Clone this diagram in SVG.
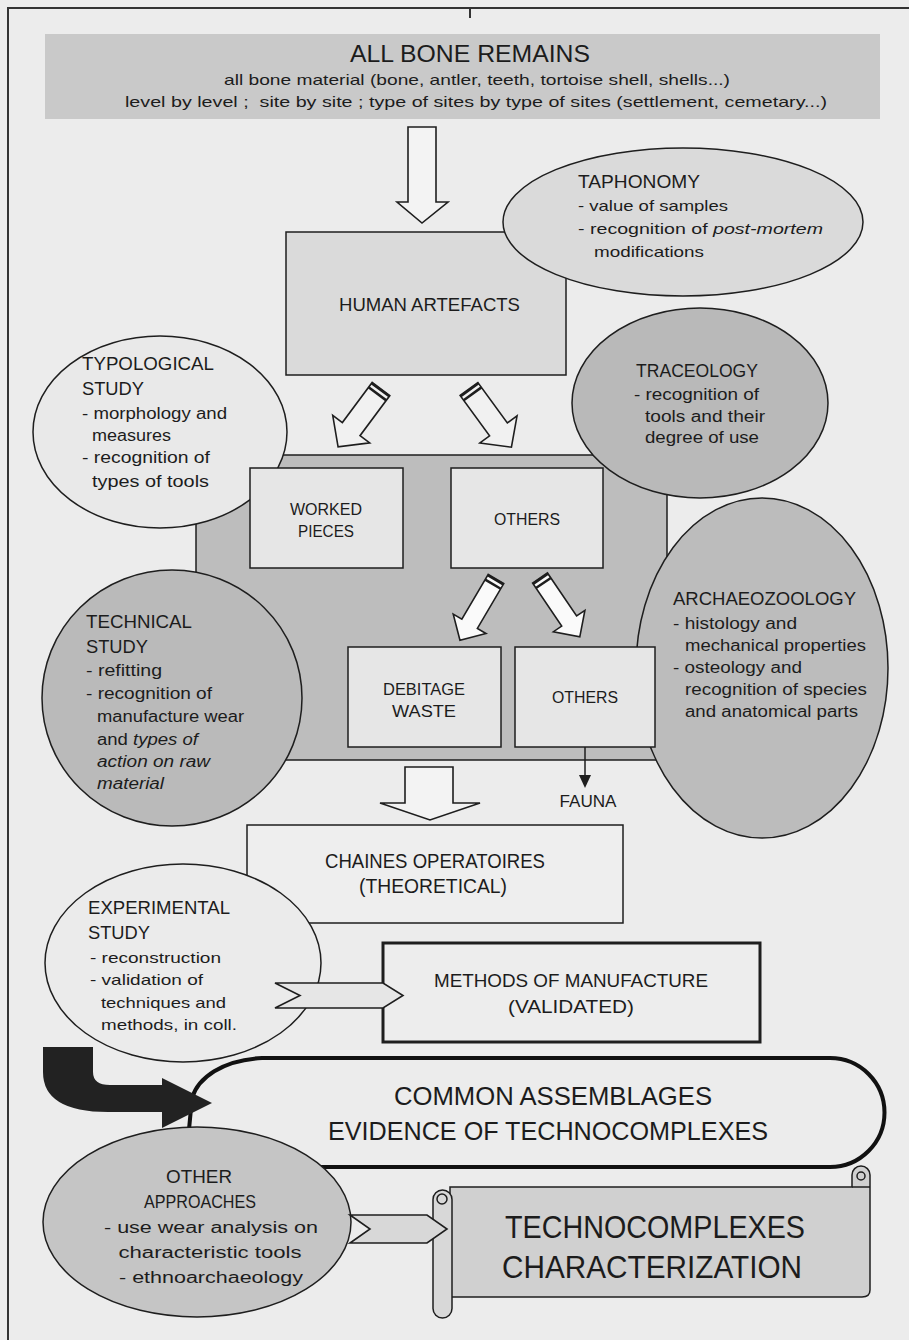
<svg xmlns="http://www.w3.org/2000/svg" xmlns:xlink="http://www.w3.org/1999/xlink" width="909" height="1340" viewBox="0 0 909 1340">
<style>
.t{font-family:"Liberation Sans",Arial,sans-serif;fill:#1c1c1c;}
.h{font-size:18px}
.b{font-size:16px}
.s{font-size:15px}
.c{text-anchor:middle}
.i{font-style:italic}
.ln{stroke:#1e1e1e;stroke-width:1.5}
.ar{stroke:#1e1e1e;stroke-width:1.6;stroke-linejoin:miter}
</style>
<defs>
<g id="slantA">
<path class="ar" d="M-11,0 L11,0 L11,50 L23,50 L0,72 L-23,50 L-11,50 Z" fill="#f1f1f1"/>
<path d="M-11,1 L11,1 M-11,6 L11,6" stroke="#1e1e1e" stroke-width="2.5"/>
</g>
<g id="slantB">
<path class="ar" d="M-9,0 L9,0 L9,52 L19,52 L0,71 L-19,52 L-9,52 Z" fill="#fafafa" stroke-width="2"/>
<path d="M-9,1 L9,1 M-9,6 L9,6" stroke="#1e1e1e" stroke-width="2.5"/>
</g>
</defs>
<rect x="0" y="0" width="909" height="1340" fill="#ececec"/>
<path d="M8,1340 V8 H909" fill="none" stroke="#333" stroke-width="2"/>
<line x1="470" y1="8" x2="470" y2="18" stroke="#333" stroke-width="2"/>

<g id="all-bone-remains">
<rect x="45" y="34" width="835" height="85" fill="#c9c9c9"/>
<text class="t" x="350" y="62" font-size="23" textLength="240" lengthAdjust="spacingAndGlyphs">ALL BONE REMAINS</text>
<text class="t s" x="224" y="85" textLength="506" lengthAdjust="spacingAndGlyphs">all bone material (bone, antler, teeth, tortoise shell, shells...)</text>
<text class="t s" x="125" y="107" textLength="702" lengthAdjust="spacingAndGlyphs" xml:space="preserve">level by level ;  site by site ; type of sites by type of sites (settlement, cemetary...)</text>
</g>

<g id="human-artefacts">
<rect class="ln" x="286" y="232" width="280" height="143" fill="#dadada"/>
<text class="t h" x="339" y="311" textLength="181" lengthAdjust="spacingAndGlyphs">HUMAN ARTEFACTS</text>
</g>

<g id="taphonomy">
<ellipse class="ln" cx="683" cy="222" rx="180" ry="74" fill="#dadada"/>
<text class="t h" x="578" y="188" textLength="122" lengthAdjust="spacingAndGlyphs">TAPHONOMY</text>
<text class="t s" x="578" y="211" textLength="150" lengthAdjust="spacingAndGlyphs">- value of samples</text>
<text class="t s" x="578" y="234" textLength="245" lengthAdjust="spacingAndGlyphs">- recognition of <tspan class="i">post-mortem</tspan></text>
<text class="t s" x="594" y="257" textLength="110" lengthAdjust="spacingAndGlyphs">modifications</text>
</g>

<g id="sorting-area">
<rect class="ln" x="196" y="455" width="471" height="305" fill="#bdbdbd"/>
</g>

<g id="typological-study">
<ellipse class="ln" cx="160" cy="432" rx="127" ry="96" fill="#e9e9e9"/>
<text class="t h" x="82" y="370" textLength="132" lengthAdjust="spacingAndGlyphs">TYPOLOGICAL</text>
<text class="t h" x="82" y="395" textLength="62" lengthAdjust="spacingAndGlyphs">STUDY</text>
<text class="t b" x="82" y="419" textLength="145" lengthAdjust="spacingAndGlyphs">- morphology and</text>
<text class="t b" x="92" y="441" textLength="79" lengthAdjust="spacingAndGlyphs">measures</text>
<text class="t b" x="82" y="463" textLength="128" lengthAdjust="spacingAndGlyphs">- recognition of</text>
<text class="t b" x="92" y="487" textLength="117" lengthAdjust="spacingAndGlyphs">types of tools</text>
</g>

<g id="traceology">
<ellipse class="ln" cx="700" cy="403" rx="128" ry="95" fill="#b9b9b9"/>
<text class="t h" x="636" y="377" textLength="122" lengthAdjust="spacingAndGlyphs">TRACEOLOGY</text>
<text class="t b" x="634" y="400" textLength="125" lengthAdjust="spacingAndGlyphs">- recognition of</text>
<text class="t b" x="645" y="422" textLength="120" lengthAdjust="spacingAndGlyphs">tools and their</text>
<text class="t b" x="645" y="443" textLength="114" lengthAdjust="spacingAndGlyphs">degree of use</text>
</g>

<g id="technical-study">
<ellipse class="ln" cx="172" cy="698" rx="130" ry="128" fill="#bababa"/>
<text class="t h" x="86" y="628" textLength="106" lengthAdjust="spacingAndGlyphs">TECHNICAL</text>
<text class="t h" x="86" y="653" textLength="62" lengthAdjust="spacingAndGlyphs">STUDY</text>
<text class="t b" x="86" y="676" textLength="76" lengthAdjust="spacingAndGlyphs">- refitting</text>
<text class="t b" x="86" y="699" textLength="126" lengthAdjust="spacingAndGlyphs">- recognition of</text>
<text class="t b" x="97" y="722" textLength="147" lengthAdjust="spacingAndGlyphs">manufacture wear</text>
<text class="t b" x="97" y="745" textLength="101" lengthAdjust="spacingAndGlyphs">and <tspan class="i">types of</tspan></text>
<text class="t b i" x="97" y="767" textLength="113" lengthAdjust="spacingAndGlyphs">action on raw</text>
<text class="t b i" x="97" y="789" textLength="67" lengthAdjust="spacingAndGlyphs">material</text>
</g>

<g id="archaeozoology">
<ellipse class="ln" cx="762" cy="668" rx="126" ry="170" fill="#bcbcbc"/>
<text class="t h" x="673" y="605" textLength="183" lengthAdjust="spacingAndGlyphs">ARCHAEOZOOLOGY</text>
<text class="t b" x="673" y="629" textLength="124" lengthAdjust="spacingAndGlyphs">- histology and</text>
<text class="t b" x="685" y="651" textLength="181" lengthAdjust="spacingAndGlyphs">mechanical properties</text>
<text class="t b" x="673" y="673" textLength="129" lengthAdjust="spacingAndGlyphs">- osteology and</text>
<text class="t b" x="685" y="695" textLength="182" lengthAdjust="spacingAndGlyphs">recognition of species</text>
<text class="t b" x="685" y="717" textLength="173" lengthAdjust="spacingAndGlyphs">and anatomical parts</text>
</g>

<g id="worked-pieces">
<rect class="ln" x="250" y="468" width="153" height="100" fill="#e6e6e6"/>
<text class="t b c" x="326" y="515" textLength="72" lengthAdjust="spacingAndGlyphs">WORKED</text>
<text class="t b c" x="326" y="537" textLength="56" lengthAdjust="spacingAndGlyphs">PIECES</text>
</g>

<g id="others-1">
<rect class="ln" x="451" y="468" width="152" height="100" fill="#e6e6e6"/>
<text class="t b c" x="527" y="525" textLength="66" lengthAdjust="spacingAndGlyphs">OTHERS</text>
</g>

<g id="debitage-waste">
<rect class="ln" x="348" y="647" width="153" height="100" fill="#e6e6e6"/>
<text class="t b c" x="424" y="695" textLength="82" lengthAdjust="spacingAndGlyphs">DEBITAGE</text>
<text class="t b c" x="424" y="717" textLength="64" lengthAdjust="spacingAndGlyphs">WASTE</text>
</g>

<g id="others-2">
<rect class="ln" x="515" y="647" width="140" height="100" fill="#e6e6e6"/>
<text class="t b c" x="585" y="703" textLength="66" lengthAdjust="spacingAndGlyphs">OTHERS</text>
</g>

<g id="fauna">
<text class="t b c" x="588" y="807" textLength="57" lengthAdjust="spacingAndGlyphs">FAUNA</text>
</g>

<g id="chaines-operatoires">
<rect class="ln" x="247" y="825" width="376" height="98" fill="#eeeeee"/>
<text class="t c" x="435" y="868" font-size="20" textLength="220" lengthAdjust="spacingAndGlyphs">CHAINES OPERATOIRES</text>
<text class="t c" x="433" y="893" font-size="20" textLength="148" lengthAdjust="spacingAndGlyphs">(THEORETICAL)</text>
</g>

<g id="experimental-study">
<ellipse class="ln" cx="183" cy="963" rx="138" ry="99" fill="#ebebeb"/>
<text class="t h" x="88" y="914" textLength="142" lengthAdjust="spacingAndGlyphs">EXPERIMENTAL</text>
<text class="t h" x="88" y="939" textLength="62" lengthAdjust="spacingAndGlyphs">STUDY</text>
<text class="t s" x="90" y="963" textLength="131" lengthAdjust="spacingAndGlyphs">- reconstruction</text>
<text class="t s" x="90" y="985" textLength="113" lengthAdjust="spacingAndGlyphs">- validation of</text>
<text class="t s" x="101" y="1008" textLength="125" lengthAdjust="spacingAndGlyphs">techniques and</text>
<text class="t s" x="101" y="1030" textLength="136" lengthAdjust="spacingAndGlyphs">methods, in coll.</text>
</g>

<g id="methods-of-manufacture">
<rect x="383" y="943" width="377" height="99" fill="#ededed" stroke="#1e1e1e" stroke-width="3"/>
<text class="t c" x="571" y="987" font-size="19" textLength="274" lengthAdjust="spacingAndGlyphs">METHODS OF MANUFACTURE</text>
<text class="t c" x="571" y="1013" font-size="19" textLength="126" lengthAdjust="spacingAndGlyphs">(VALIDATED)</text>
</g>

<g id="common-assemblages">
<path d="M830,1058 L262,1058 C222,1060 198,1078 192,1098 L188,1140 Q190,1167 232,1167 L830,1167 A54.5,54.5 0 0 0 830,1058 Z" fill="#ececec" stroke="#111" stroke-width="4"/>
<text class="t c" x="553" y="1105" font-size="25" textLength="318" lengthAdjust="spacingAndGlyphs">COMMON ASSEMBLAGES</text>
<text class="t c" x="548" y="1140" font-size="25" textLength="440" lengthAdjust="spacingAndGlyphs">EVIDENCE OF TECHNOCOMPLEXES</text>
</g>

<g id="other-approaches">
<ellipse class="ln" cx="197" cy="1222" rx="154" ry="95" fill="#c5c5c5"/>
<text class="t h c" x="199" y="1183" textLength="66" lengthAdjust="spacingAndGlyphs">OTHER</text>
<text class="t h c" x="200" y="1208" textLength="112" lengthAdjust="spacingAndGlyphs">APPROACHES</text>
<text class="t b c" x="211" y="1233" textLength="214" lengthAdjust="spacingAndGlyphs">- use wear analysis on</text>
<text class="t b c" x="210" y="1258" textLength="183" lengthAdjust="spacingAndGlyphs">characteristic tools</text>
<text class="t b c" x="211" y="1283" textLength="184" lengthAdjust="spacingAndGlyphs">- ethnoarchaeology</text>
</g>

<g id="technocomplexes-characterization">
<path class="ln" d="M450,1187 L852,1187 L852,1175 A9,9 0 0 1 870,1175 L870,1290 Q870,1297 862,1297 L450,1297 Z" fill="#d0d0d0"/>
<circle cx="861" cy="1176" r="4" fill="none" stroke="#1e1e1e" stroke-width="1.5"/>
<line x1="852" y1="1187" x2="870" y2="1187" stroke="#1e1e1e" stroke-width="1.5"/>
<rect class="ln" x="433" y="1190" width="19" height="128" rx="9.5" fill="#d8d8d8"/>
<circle cx="442" cy="1199" r="5" fill="none" stroke="#1e1e1e" stroke-width="1.5"/>
<text class="t c" x="655" y="1238" font-size="32" textLength="300" lengthAdjust="spacingAndGlyphs">TECHNOCOMPLEXES</text>
<text class="t c" x="652" y="1278" font-size="32" textLength="300" lengthAdjust="spacingAndGlyphs">CHARACTERIZATION</text>
</g>

<g id="connectors">
<path class="ar" d="M408,127 L436,127 L436,202 L448,202 L422,223 L397,202 L408,202 Z" fill="#f3f3f3"/>
<use xlink:href="#slantA" href="#slantA" transform="translate(381,389) rotate(36.6)"/>
<use xlink:href="#slantA" href="#slantA" transform="translate(469,389) rotate(-36.1)"/>
<use xlink:href="#slantB" href="#slantB" transform="translate(496,579) rotate(30.5)"/>
<use xlink:href="#slantB" href="#slantB" transform="translate(540,578) rotate(-34.1)"/>
<line x1="585" y1="747" x2="585" y2="776" stroke="#1e1e1e" stroke-width="1.5"/>
<path d="M579,775 L591,775 L585,788 Z" fill="#1e1e1e"/>
<path class="ar" d="M405,767 L453,767 L453,803 L480,803 L430,820 L380,803 L405,803 Z" fill="#f3f3f3"/>
<path class="ar" d="M275,983 L383,983 L403,995.5 L383,1008 L275,1008 L300,995.5 Z" fill="#e6e6e6"/>
<path d="M43,1047 L93,1047 L93,1072 Q93,1085 110,1085 L162,1085 L162,1078 L212,1103 L162,1128 L162,1112 L108,1112 Q43,1112 43,1072 Z" fill="#222"/>
<path class="ar" d="M350,1215 L427,1215 L447,1229 L427,1243 L350,1243 L370,1229 Z" fill="#d8d8d8"/>
</g>
</svg>
